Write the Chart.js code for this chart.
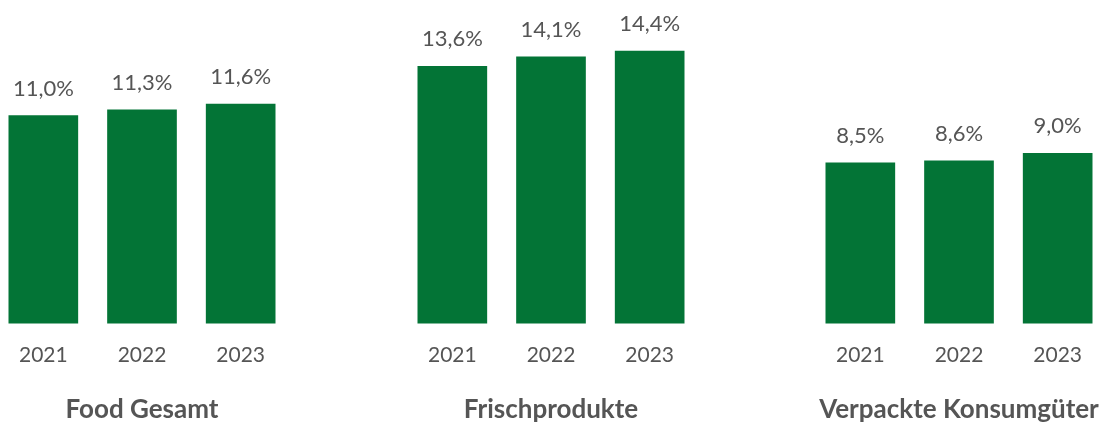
<!DOCTYPE html>
<html>
<head>
<meta charset="utf-8">
<script src="https://cdn.jsdelivr.net/npm/chart.js@4"></script>
<style>
  html, body { margin: 0; padding: 0; background: #fff; overflow: hidden; }
  body { width: 1100px; height: 425px; position: relative; }
  .box { position: absolute; top: 0; width: 296px; height: 425px; }
</style>
</head>
<body>
<div class="box" style="left:-6px"><canvas id="c1"></canvas></div>
<div class="box" style="left:403px"><canvas id="c2"></canvas></div>
<div class="box" style="left:811px"><canvas id="c3"></canvas></div>
<script>
var years = ['2021', '2022', '2023'];
var groupTitles = ['Food Gesamt', 'Frischprodukte', 'Verpackte Konsumgüter'];
var foodGesamt = [11.0, 11.3, 11.6];
var frischprodukte = [13.6, 14.1, 14.4];
var verpackteKonsumgueter = [8.5, 8.6, 9.0];

var green = '#037436';
var grey = '#555555';
var fontFamily = 'Lato, "Open Sans", sans-serif';

var valueLabels = {
    id: 'valueLabels',
    afterDatasetsDraw: function(chart) {
        var ctx = chart.ctx;
        var meta = chart.getDatasetMeta(0);
        ctx.save();
        ctx.font = '22px ' + fontFamily;
        ctx.fillStyle = grey;
        ctx.textAlign = 'center';
        ctx.textBaseline = 'middle';
        meta.data.forEach(function(bar, i) {
            var v = chart.data.datasets[0].data[i];
            ctx.fillText(v.toFixed(1).replace('.', ',') + '%', bar.x, bar.y - 27);
        });
        ctx.restore();
    }
};

function makeChart(id, title, values) {
    new Chart(document.getElementById(id).getContext('2d'), {
        type: 'bar',
        data: {
            labels: years,
            datasets: [{
                data: values,
                backgroundColor: green,
                barThickness: 69
            }]
        },
        options: {
            responsive: true,
            maintainAspectRatio: false,
            animation: false,
            layout: { padding: { top: 2, left: 0, right: 0, bottom: 0 } },
            plugins: { legend: { display: false }, tooltip: { enabled: false } },
            scales: {
                x: {
                    grid: { display: false, drawTicks: false },
                    border: { display: false },
                    ticks: { color: grey, padding: 19, font: { family: fontFamily, size: 21 } },
                    title: {
                        display: true,
                        text: title,
                        color: grey,
                        padding: { top: 7, bottom: 0 },
                        font: { family: fontFamily, size: 26, weight: 'bold' }
                    }
                },
                y: {
                    display: false,
                    min: 0,
                    max: 17
                }
            }
        },
        plugins: [valueLabels]
    });
}

makeChart('c1', groupTitles[0], foodGesamt);
makeChart('c2', groupTitles[1], frischprodukte);
makeChart('c3', groupTitles[2], verpackteKonsumgueter);
</script>
</body>
</html>
